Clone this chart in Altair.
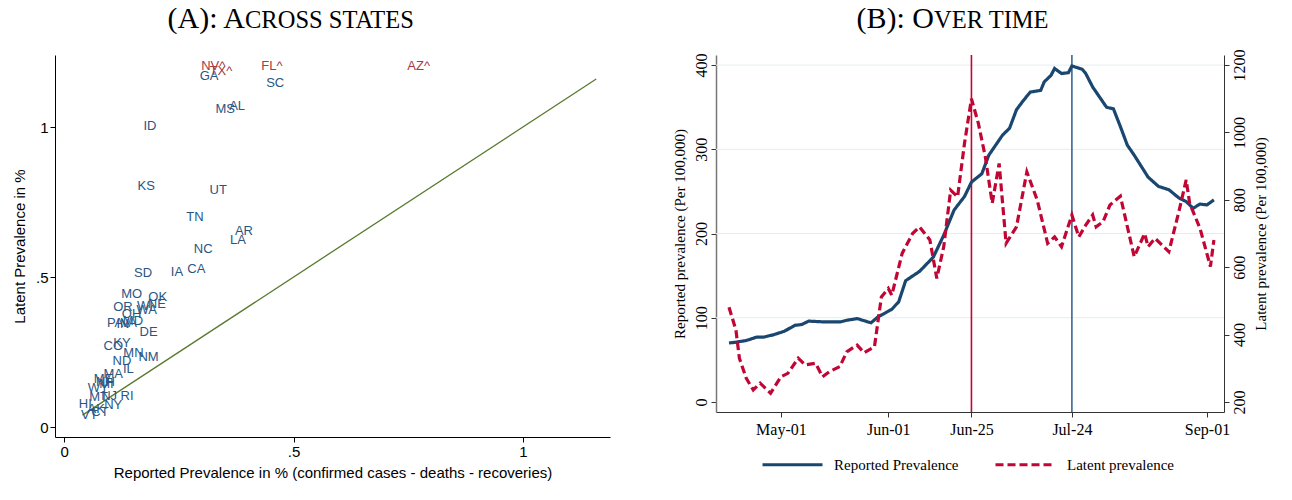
import altair as alt
import pandas as pd

# ---------------- Panel A: across states ----------------
states = ["NV^", "TX^", "GA", "FL^", "AZ^", "SC", "MS", "AL", "ID", "KS", "UT", "TN",
          "AR", "LA", "NC", "CA", "IA", "SD", "MO", "OK", "OR", "WI", "NE", "WA", "OH",
          "PA", "IN", "VA", "MD", "DE", "CO", "KY", "MN", "NM", "ND", "MA", "IL",
          "ME", "NH", "MI", "WY", "MT", "NJ", "RI", "HI", "VT", "AK", "CT", "NY"]
reported_pct = [0.325, 0.342, 0.316, 0.453, 0.773, 0.460, 0.351, 0.377, 0.187, 0.179, 0.336, 0.285,
                0.392, 0.379, 0.303, 0.288, 0.246, 0.172, 0.147, 0.204, 0.128, 0.176, 0.202, 0.180, 0.147,
                0.111, 0.128, 0.141, 0.150, 0.184, 0.107, 0.126, 0.151, 0.184, 0.126, 0.107, 0.140,
                0.086, 0.090, 0.092, 0.074, 0.075, 0.098, 0.137, 0.046, 0.055, 0.070, 0.078, 0.107]
latent_pct = [1.203, 1.187, 1.170, 1.203, 1.203, 1.147, 1.060, 1.070, 1.003, 0.803, 0.790, 0.700,
              0.653, 0.623, 0.593, 0.527, 0.517, 0.513, 0.443, 0.434, 0.401, 0.404, 0.409, 0.390, 0.376,
              0.346, 0.342, 0.348, 0.352, 0.318, 0.270, 0.279, 0.246, 0.232, 0.221, 0.176, 0.192,
              0.160, 0.150, 0.143, 0.130, 0.101, 0.103, 0.103, 0.077, 0.040, 0.060, 0.051, 0.073]
flagged = [s.endswith("^") for s in states]
diag = [0.04, 1.16]

# ---------------- Panel B: over time ----------------
rep_dates = ["2020-04-16", "2020-04-18", "2020-04-21", "2020-04-24", "2020-04-26", "2020-04-29",
             "2020-05-02", "2020-05-05", "2020-05-07", "2020-05-09", "2020-05-14", "2020-05-18",
             "2020-05-20", "2020-05-23", "2020-05-27", "2020-05-29", "2020-06-02", "2020-06-04",
             "2020-06-06", "2020-06-10", "2020-06-14", "2020-06-17", "2020-06-20", "2020-06-23",
             "2020-06-25", "2020-06-28", "2020-06-30", "2020-07-04", "2020-07-06", "2020-07-08",
             "2020-07-10", "2020-07-12", "2020-07-15", "2020-07-16", "2020-07-18", "2020-07-19",
             "2020-07-21", "2020-07-23", "2020-07-24", "2020-07-27", "2020-07-28", "2020-07-30",
             "2020-08-01", "2020-08-03", "2020-08-05", "2020-08-07", "2020-08-09", "2020-08-11",
             "2020-08-15", "2020-08-18", "2020-08-21", "2020-08-24", "2020-08-26", "2020-08-28",
             "2020-08-30", "2020-09-01", "2020-09-03"]
rep_vals = [70, 71, 73, 77, 77, 80,
            84, 91, 92, 96, 95, 95,
            97, 99, 94, 101, 110, 119,
            144, 155, 172, 198, 228, 244,
            261, 271, 293, 317, 325, 347,
            358, 368, 370, 380, 388, 396,
            390, 391, 399, 395, 390, 374,
            362, 350, 348, 327, 305, 293,
            267, 256, 252, 242, 238, 230,
            235, 234, 240]

lat_dates = ["2020-04-16", "2020-04-18", "2020-04-19", "2020-04-21", "2020-04-23", "2020-04-25",
             "2020-04-28", "2020-05-01", "2020-05-03", "2020-05-06", "2020-05-08", "2020-05-11",
             "2020-05-13", "2020-05-15", "2020-05-18", "2020-05-20", "2020-05-23", "2020-05-25",
             "2020-05-28", "2020-05-30", "2020-06-01", "2020-06-02", "2020-06-05", "2020-06-08",
             "2020-06-10", "2020-06-13", "2020-06-15", "2020-06-17", "2020-06-19", "2020-06-21",
             "2020-06-23", "2020-06-25", "2020-06-27", "2020-06-29", "2020-07-01", "2020-07-03",
             "2020-07-05", "2020-07-08", "2020-07-11", "2020-07-14", "2020-07-17", "2020-07-19",
             "2020-07-21", "2020-07-24", "2020-07-26", "2020-07-28", "2020-07-30", "2020-07-31",
             "2020-08-02", "2020-08-04", "2020-08-07", "2020-08-11", "2020-08-14", "2020-08-15",
             "2020-08-17", "2020-08-19", "2020-08-21", "2020-08-24", "2020-08-26", "2020-08-27",
             "2020-08-30", "2020-09-02", "2020-09-03"]
lat_vals = [481, 414, 330, 270, 236, 256,
            226, 275, 285, 330, 310, 315,
            275, 290, 305, 349, 369, 346,
            364, 512, 537, 517, 641, 700,
            720, 681, 567, 661, 829, 809,
            968, 1100, 1027, 928, 790, 908,
            671, 720, 883, 799, 671, 690,
            661, 755, 690, 725, 755, 720,
            735, 785, 811, 631, 700, 661,
            686, 666, 646, 770, 859, 790,
            715, 602, 681]

event_dates = ["2020-06-25", "2020-07-24"]
grid_vals = [100, 200, 300, 400]
tick_dates = [(5, 1), (6, 1), (6, 25), (7, 24), (9, 1)]

NAVY = "#1a476f"
RED = "#c10534"
LBL_BLUE = "#2a5683"
LBL_RED = "#a33a45"
GREEN = "#5a7a30"
SANS = "Liberation Sans"
SERIF = "Liberation Serif"

# ---------- Panel A chart ----------
dfA = pd.DataFrame({"state": states, "x": reported_pct, "y": latent_pct, "flag": flagged})
dfDiag = pd.DataFrame({"x": diag, "y": diag})

WA, HA = 555, 382
xA_scale = alt.Scale(domain=[-0.02, 1.19], nice=False, zero=False)
yA_scale = alt.Scale(domain=[-0.033, 1.24], nice=False, zero=False)
axisA_common = dict(grid=False, domainColor="black", tickColor="black", tickSize=5,
                    labelFont=SANS, labelFontSize=15, labelColor="black",
                    titleFont=SANS, titleFontSize=15, titleFontWeight="normal", titleColor="black",
                    labelExpr="datum.value == 0.5 ? '.5' : format(datum.value, 'd')")
xA = alt.X("x:Q", scale=xA_scale,
           axis=alt.Axis(values=[0, 0.5, 1], title="Reported Prevalence in % (confirmed cases - deaths - recoveries)",
                         titlePadding=6, **axisA_common))
yA = alt.Y("y:Q", scale=yA_scale,
           axis=alt.Axis(values=[0, 0.5, 1], title="Latent Prevalence in %", titlePadding=8, **axisA_common))

diag_line = alt.Chart(dfDiag).mark_line(color=GREEN, strokeWidth=1.3).encode(x=xA, y=yA)
lbl_blue = alt.Chart(dfA).transform_filter("!datum.flag").mark_text(
    font=SANS, fontSize=13, color=LBL_BLUE).encode(x=xA, y=yA, text="state:N")
lbl_red = alt.Chart(dfA).transform_filter("datum.flag").mark_text(
    font=SANS, fontSize=13, color=LBL_RED).encode(x=xA, y=yA, text="state:N")

TITLE_Y = -27
tA1 = alt.Chart(pd.DataFrame({"t": ["(A): A"]})).mark_text(
    font=SERIF, fontSize=30, align="right", baseline="alphabetic", color="black"
).encode(text="t:N", x=alt.value(190), y=alt.value(TITLE_Y))
tA2 = alt.Chart(pd.DataFrame({"t": ["CROSS STATES"]})).mark_text(
    font=SERIF, fontSize=24.5, align="left", baseline="alphabetic", color="black"
).encode(text="t:N", x=alt.value(190), y=alt.value(TITLE_Y))

panelA = alt.layer(diag_line, lbl_blue, lbl_red, tA1, tA2).properties(width=WA, height=HA)

# ---------- Panel B chart ----------
def dt(m, d, h=0):
    return alt.DateTime(year=2020, month=m, date=d, hours=h, utc=True)

dfRep = pd.DataFrame({"date": rep_dates, "v": rep_vals, "series": "Reported Prevalence"})
dfLat = pd.DataFrame({"date": lat_dates, "v": lat_vals, "series": "Latent prevalence"})
dfGrid = pd.DataFrame({"v": grid_vals})
dfEv1 = pd.DataFrame({"date": [event_dates[0]]})
dfEv2 = pd.DataFrame({"date": [event_dates[1]]})

WB, HB = 508, 357
xB_scale = alt.Scale(type="utc", domain=[dt(4, 12, 6), dt(9, 5, 22)], nice=False)
xB = alt.X("date:T", scale=xB_scale,
           axis=alt.Axis(values=[dt(m, d) for m, d in tick_dates],
                         labelExpr="utcFormat(datum.value, '%b-%d')",
                         title=None, grid=False, domainColor="#333", tickColor="#333", tickSize=5,
                         labelFont=SERIF, labelFontSize=16, labelColor="black", labelPadding=4))
yL_scale = alt.Scale(domain=[-11.9, 412], nice=False, zero=False)
yR_scale = alt.Scale(domain=[170.3, 1230], nice=False, zero=False)
axisB_common = dict(grid=False, tickSize=5, tickColor="#333", format="d",
                    labelFont=SERIF, labelFontSize=16, labelColor="black", labelAngle=270,
                    labelAlign="center",
                    titleFont=SERIF, titleFontSize=15, titleFontWeight="normal", titleColor="black")

series_dom = ["Reported Prevalence", "Latent prevalence"]
legend = alt.Legend(title=None, orient="none", legendX=45, legendY=378, direction="horizontal",
                    symbolType="stroke", symbolSize=3600, symbolStrokeWidth=3,
                    labelFont=SERIF, labelFontSize=15, labelColor="black", labelOffset=10,
                    columnPadding=30, padding=0, labelLimit=0)
colorB = alt.Color("series:N", scale=alt.Scale(domain=series_dom, range=[NAVY, RED]), legend=legend)
dashB = alt.StrokeDash("series:N", scale=alt.Scale(domain=series_dom, range=[[1, 0], [8, 4]]), legend=legend)

grid = alt.Chart(dfGrid).mark_rule(color="#e3eef0", strokeWidth=1).encode(
    y=alt.Y("v:Q", scale=yL_scale, axis=None))
ev1 = alt.Chart(dfEv1).mark_rule(color=RED, strokeWidth=1.6).encode(x=xB)
ev2 = alt.Chart(dfEv2).mark_rule(color="#3a6792", strokeWidth=1.6).encode(x=xB)

rep_line = alt.Chart(dfRep).mark_line(strokeWidth=3.2).encode(
    x=xB,
    y=alt.Y("v:Q", scale=yL_scale,
            axis=alt.Axis(values=[0, 100, 200, 300, 400], orient="left", labelBaseline="bottom",
                          domainColor="#777", domainWidth=1.5,
                          title="Reported prevalence (Per 100,000)", titlePadding=6, **axisB_common)),
    color=colorB, strokeDash=dashB)
lat_line = alt.Chart(dfLat).mark_line(strokeWidth=3.2).encode(
    x=xB,
    y=alt.Y("v:Q", scale=yR_scale,
            axis=alt.Axis(values=[200, 400, 600, 800, 1000, 1200], orient="right", labelBaseline="top",
                          domainColor="#333", titleAngle=270, titleBaseline="top",
                          title="Latent prevalence (Per 100,000)", titlePadding=6, **axisB_common)),
    color=colorB, strokeDash=dashB)

tB1 = alt.Chart(pd.DataFrame({"t": ["(B): O"]})).mark_text(
    font=SERIF, fontSize=30, align="right", baseline="alphabetic", color="black"
).encode(text="t:N", x=alt.value(218), y=alt.value(TITLE_Y))
tB2 = alt.Chart(pd.DataFrame({"t": ["VER TIME"]})).mark_text(
    font=SERIF, fontSize=24.5, align="left", baseline="alphabetic", color="black"
).encode(text="t:N", x=alt.value(218), y=alt.value(TITLE_Y))

panelB = alt.layer(grid, ev1, ev2, rep_line, lat_line, tB1, tB2).resolve_scale(
    y="independent").properties(width=WB, height=HB)

chart = alt.hconcat(panelA, panelB, spacing=62).resolve_legend(
    color="independent", strokeDash="independent"
).configure_view(stroke=None).properties(padding={"left": 4, "top": -4, "right": 5, "bottom": 5})

chart.save("out.html", embed_options={"renderer": "svg", "actions": False})
